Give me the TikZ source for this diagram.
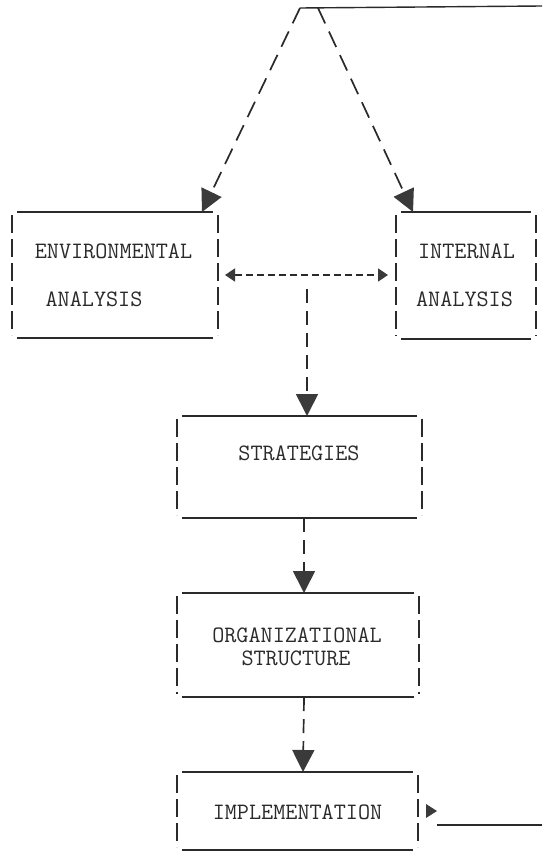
\documentclass[tikz,border=0pt]{standalone}
\usepackage{fontspec}
\usetikzlibrary{arrows.meta}
\definecolor{ink}{HTML}{2A2A2A}
\definecolor{tipc}{HTML}{3A3A3A}
\tikzset{
  boxnode/.style={draw=none, inner sep=0pt, outer sep=0pt, minimum width=#1},
  edgetb/.style={ink, line width=1.4pt},
  edgelr/.style={ink, line width=1.6pt, dash pattern=on 18pt off 6pt},
  label/.style={text=ink, font=\ttfamily\fontsize{23.5}{25}\selectfont\addfontfeature{FakeBold=1.2}, inner sep=0pt, align=center},
  bigtip/.style={-{Triangle[length=22pt,width=22pt,fill=tipc,color=tipc]}},
  diag/.style={ink, line width=1.7pt, dash pattern=on 17pt off 9pt, bigtip},
  vert/.style={ink, line width=1.7pt, dash pattern=on 14pt off 8pt, bigtip},
  dbl/.style={ink, line width=1.6pt, dash pattern=on 7pt off 4pt,
    {Triangle[length=10pt,width=13pt,fill=tipc,color=tipc]}-{Triangle[length=10pt,width=13pt,fill=tipc,color=tipc]}},
  solidline/.style={ink, line width=1.4pt},
}
\newcommand{\mydbox}[1]{%
  \draw[edgetb] ([xshift=5pt]#1.north west) -- ([xshift=-5pt]#1.north east);
  \draw[edgetb] ([xshift=5pt]#1.south west) -- ([xshift=-5pt]#1.south east);
  \draw[edgelr] ([yshift=-3pt]#1.north west) -- ([yshift=3pt]#1.south west);
  \draw[edgelr] ([yshift=-3pt]#1.north east) -- ([yshift=3pt]#1.south east);}
\begin{document}
\begin{tikzpicture}[x=1pt,y=-1pt]
\useasboundingbox (0,0) rectangle (542,851);
% boxes
\node[boxnode=206pt, minimum height=126pt] (env) at (115,275) {};
\node[boxnode=140pt, minimum height=127pt] (int) at (466,275.5) {};
\node[boxnode=245pt, minimum height=102pt] (strat) at (299.5,467) {};
\node[boxnode=242pt, minimum height=104pt] (org) at (298,645) {};
\node[boxnode=241pt, minimum height=78pt] (impl) at (297.5,811) {};
\mydbox{env}\mydbox{int}\mydbox{strat}\mydbox{org}\mydbox{impl}
% texts
\node[label] (t1) at (113.5,251) {ENVIRONMENTAL};
\node[label] (t2) at (94,299) {ANALYSIS};
\node[label] (t3) at (466.5,251) {INTERNAL};
\node[label] (t4) at (464.5,299) {ANALYSIS};
\node[label] (t5) at (299,453) {STRATEGIES};
\node[label] (t6) at (297,635) {ORGANIZATIONAL};
\node[label] (t7) at (296,658) {STRUCTURE};
\node[label] (t8) at (297.5,812) {IMPLEMENTATION};
% coordinates
\coordinate (apexL) at (300,8);
\coordinate (apexR) at (318,8);
\coordinate (topR) at (542,6);
\coordinate (hub) at (307,289);
\coordinate (fbL) at (437,825);
\coordinate (botR) at (542,825);
% connectors
\draw[solidline] (apexL) -- (topR);
\draw[diag] (apexL) -- ([xshift=-16pt]env.north east);
\draw[diag] (apexR) -- ([xshift=17pt]int.north west);
\draw[dbl, shorten <=7pt, shorten >=8pt] (env.east) -- (env.east -| int.west);
\draw[vert] (hub) -- (hub |- strat.north);
\draw[vert] ([xshift=4.5pt]strat.south) -- ([xshift=6pt]org.north);
\draw[vert] ([xshift=6pt]org.south) -- ([xshift=5.5pt]impl.north);
\draw[solidline] (fbL) -- (botR);
\draw[line width=0pt, -{Triangle[length=11pt,width=14pt,fill=tipc,color=tipc]}] ([xshift=8pt]impl.east) -- ([xshift=19pt]impl.east);
\end{tikzpicture}
\end{document}
